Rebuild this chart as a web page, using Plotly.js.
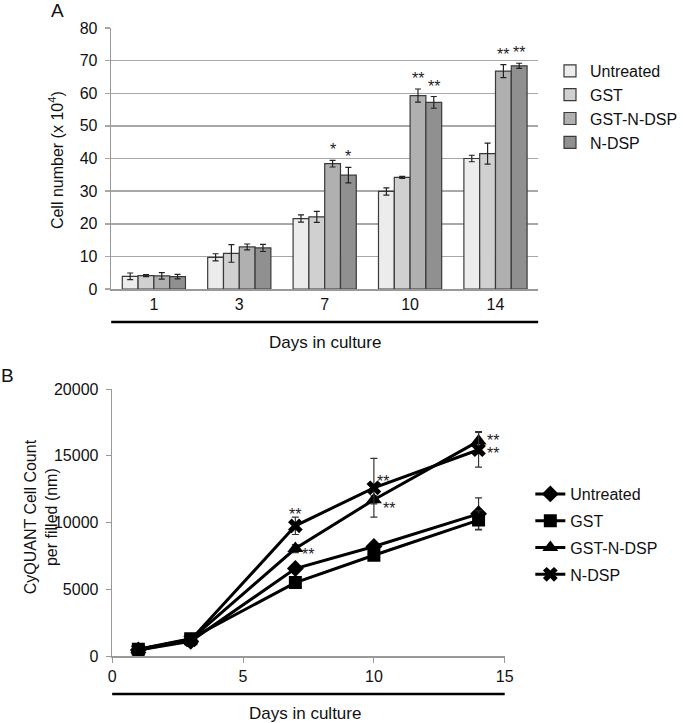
<!DOCTYPE html>
<html><head><meta charset="utf-8">
<script src="https://cdn.plot.ly/plotly-3.0.1.min.js"></script>
<style>html,body{margin:0;padding:0;background:#fff}#chart{width:683px;height:723px}</style>
</head><body><div id="chart"></div>
<script>
// ---------- Panel A data ----------
const daysA = ['1', '3', '7', '10', '14'];
const seriesNames = ['Untreated', 'GST', 'GST-N-DSP', 'N-DSP'];
const cellUntreated = [3.9, 9.7, 21.6, 29.9, 40.0];
const cellGST = [4.1, 10.9, 22.1, 34.2, 41.5];
const cellGSTNDSP = [4.0, 12.9, 38.4, 59.3, 66.8];
const cellNDSP = [3.8, 12.6, 34.9, 57.2, 68.4];
const errCellUntreated = [1.0, 1.1, 1.1, 1.1, 1.0];
const errCellGST = [0.3, 2.7, 1.7, 0.3, 3.2];
const errCellGSTNDSP = [1.0, 0.9, 1.0, 2.0, 2.0];
const errCellNDSP = [0.7, 1.1, 2.4, 1.8, 0.8];
const sigCellGSTNDSP = ['', '', '*', '**', '**'];
const sigCellNDSP = ['', '', '*', '**', '**'];

// ---------- Panel B data ----------
const daysB = [1, 3, 7, 10, 14];
const cqUntreated = [450, 1100, 6550, 8200, 10650];
const cqGST = [500, 1300, 5500, 7550, 10180];
const cqGSTNDSP = [480, 1250, 8050, 11700, 16100];
const cqNDSP = [450, 1200, 9750, 12600, 15450];
const errCqUntreated = [100, 150, 200, 250, 1200];
const errCqGST = [100, 150, 200, 250, 700];
const errCqGSTNDSP = [100, 150, 300, 300, 700];
const errCqNDSP = [100, 150, 650, 2200, 1300];
const sigCqGSTNDSP = ['', '', '**', '**', '**'];
const sigCqNDSP = ['', '', '**', '**', '**'];

// ---------- styles ----------
const W = 683, H = 723;
const px = v => v / W, py = v => 1 - v / H;
const FONT = 'Liberation Sans, Arial, sans-serif';
const barColors = ['#ececec', '#d0d0d0', '#b0b0b0', '#909090'];
const cellVals = [cellUntreated, cellGST, cellGSTNDSP, cellNDSP];
const cellErrs = [errCellUntreated, errCellGST, errCellGSTNDSP, errCellNDSP];
const cqVals = [cqUntreated, cqGST, cqGSTNDSP, cqNDSP];
const cqErrs = [errCqUntreated, errCqGST, errCqGSTNDSP, errCqNDSP];
const symbols = ['diamond', 'square', 'triangle-up', 'x'];
const symSizes = [13, 13, 14, 13];

const traces = [];
seriesNames.forEach((n, i) => {
  traces.push({
    type: 'bar', name: n, x: daysA, y: cellVals[i], xaxis: 'x', yaxis: 'y',
    marker: {color: barColors[i], line: {color: '#3a3a3a', width: 1.2}},
    error_y: {type: 'data', array: cellErrs[i], visible: true, color: '#222', thickness: 1.2, width: 3},
    legend: 'legend', hoverinfo: 'skip'
  });
});
seriesNames.forEach((n, i) => {
  traces.push({
    type: 'scatter', mode: 'lines+markers', name: n, x: daysB, y: cqVals[i], xaxis: 'x2', yaxis: 'y2',
    line: {color: '#000', width: 3},
    marker: {symbol: symbols[i], size: symSizes[i], color: '#000', line: {color: '#000', width: 0}},
    error_y: {type: 'data', array: cqErrs[i], visible: true, color: '#333', thickness: 1.2, width: 3.5},
    legend: 'legend2', legendgroup: 'g' + i, hoverinfo: 'skip'
  });
});

const annotations = [];
const starFont = {family: FONT, size: 16, color: '#222'};
// Panel A stars above error bars
const barW = (1 - 0.26) / 4;
[[2, sigCellGSTNDSP], [3, sigCellNDSP]].forEach(([si, sig]) => {
  sig.forEach((s, k) => {
    if (!s) return;
    annotations.push({xref: 'x', yref: 'y', x: k + (si - 1.5) * barW, y: cellVals[si][k] + cellErrs[si][k],
      text: s, showarrow: false, font: starFont, yanchor: 'bottom', xanchor: 'center', yshift: 0});
  });
});
// Panel B stars
const shiftB = {
  '3-2': {xanchor: 'center', xs: 0, ys: -8, top: true},
  '2-2': {xanchor: 'left', xs: 5, ys: -6},
  '3-3': {xanchor: 'left', xs: 1, ys: 6},
  '2-3': {xanchor: 'left', xs: 7, ys: -9},
  '2-4': {xanchor: 'left', xs: 6, ys: 1},
  '3-4': {xanchor: 'left', xs: 6, ys: -4}
};
[[2, sigCqGSTNDSP], [3, sigCqNDSP]].forEach(([si, sig]) => {
  sig.forEach((s, k) => {
    if (!s) return;
    const st = shiftB[si + '-' + k];
    const yv = st.top ? cqVals[si][k] + cqErrs[si][k] : cqVals[si][k];
    annotations.push({xref: 'x2', yref: 'y2', x: daysB[k], y: yv, text: s, showarrow: false, font: starFont,
      xanchor: st.xanchor, yanchor: st.top ? 'bottom' : 'middle', xshift: st.xs, yshift: st.ys});
  });
});
// titles and panel labels
const tFont = {family: FONT, size: 16, color: '#111'};
const paperNote = (x, y, text, font, extra) => Object.assign({xref: 'paper', yref: 'paper', x: px(x), y: py(y), text: text,
  showarrow: false, font: font, xanchor: 'center', yanchor: 'middle'}, extra || {});
annotations.push(
  paperNote(58, 11, 'A', {family: FONT, size: 19, color: '#111'}),
  paperNote(8, 375, 'B', {family: FONT, size: 19, color: '#111'}),
  paperNote(57, 160, 'Cell number (x 10<sup>4</sup>)', tFont, {textangle: -90}),
  paperNote(330, 342, 'Days in culture', {family: FONT, size: 17, color: '#111'}),
  paperNote(42, 517, 'CyQUANT Cell Count<br>per filled (nm)', tFont, {textangle: -90}),
  paperNote(310, 713, 'Days in culture', {family: FONT, size: 17, color: '#111'})
);

const tickFont = {family: FONT, size: 16, color: '#111'};
const layout = {
  width: W, height: H, margin: {l: 0, r: 0, t: 0, b: 0},
  paper_bgcolor: '#fff', plot_bgcolor: '#fff',
  barmode: 'group', bargap: 0.26, bargroupgap: 0,
  showlegend: true,
  xaxis: {domain: [px(113), px(547)], type: 'category', tickfont: tickFont, showgrid: false,
    showline: true, linecolor: '#999', linewidth: 1.5, ticks: '', zeroline: false, fixedrange: true},
  yaxis: {domain: [py(289), py(28)], range: [0, 80], dtick: 10, tickfont: tickFont,
    showgrid: true, gridcolor: '#a8a8a8', gridwidth: 1.5, showline: true, linecolor: '#999', linewidth: 1.5,
    ticks: 'outside', ticklen: 5, tickcolor: '#a8a8a8', tickwidth: 1.5, zeroline: false, ticklabelstandoff: 4},
  xaxis2: {domain: [px(114), px(513)], range: [0, 15], dtick: 5, anchor: 'y2', tickfont: tickFont, showgrid: false,
    showline: true, linecolor: '#999', linewidth: 1.5, ticks: 'outside', ticklen: 5, tickcolor: '#999', zeroline: false},
  yaxis2: {domain: [py(656), py(389)], range: [0, 20000], dtick: 5000, anchor: 'x2', tickfont: tickFont, showgrid: false,
    showline: true, linecolor: '#999', linewidth: 1.5, ticks: 'outside', ticklen: 5, tickcolor: '#999', zeroline: false,
    ticklabelstandoff: 4, exponentformat: 'none', tickformat: 'd'},
  legend: {x: px(559), y: py(54), xanchor: 'left', yanchor: 'top', font: {family: FONT, size: 16, color: '#111'},
    bgcolor: 'rgba(0,0,0,0)', traceorder: 'normal'},
  legend2: {x: px(539), y: py(477), xanchor: 'left', yanchor: 'top', font: {family: FONT, size: 16, color: '#111'},
    bgcolor: 'rgba(0,0,0,0)', traceorder: 'grouped', tracegroupgap: 3},
  shapes: [
    {type: 'line', xref: 'paper', yref: 'paper', x0: px(113), x1: px(547), y0: py(322), y1: py(322), line: {color: '#000', width: 2.5}},
    {type: 'line', xref: 'paper', yref: 'paper', x0: px(114), x1: px(513), y0: py(694), y1: py(694), line: {color: '#000', width: 2.5}}
  ],
  annotations: annotations
};
Plotly.newPlot('chart', traces, layout, {staticPlot: true, displayModeBar: false});
</script></body></html>
